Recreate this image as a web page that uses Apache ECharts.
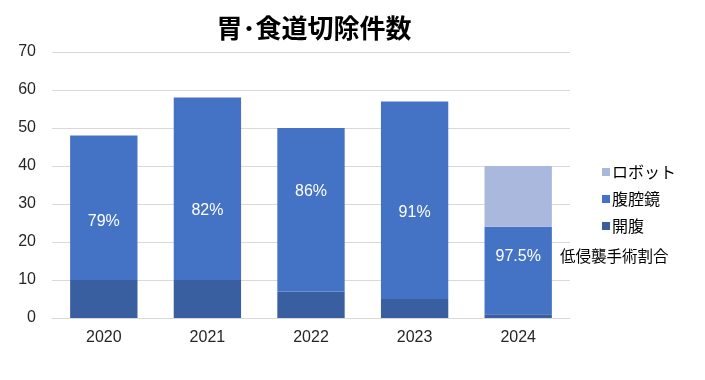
<!DOCTYPE html>
<html><head><meta charset="utf-8">
<script src="https://cdn.jsdelivr.net/npm/echarts@6/dist/echarts.min.js"></script>
<style>html,body{margin:0;padding:0;background:#fff}#c{width:705px;height:380px}</style>
</head><body><div id="c"></div>
<script>
const categories = ['2020', '2021', '2022', '2023', '2024'];
const openSurgery = [10, 10, 7, 5, 1];
const laparoscopic = [38, 48, 43, 52, 23];
const robotic = [0, 0, 0, 0, 16];
const rateLabels = ['79%', '82%', '86%', '91%', '97.5%'];
const labelOffsetY = [14, 22, -18, 12, -14];

const font = '"Noto Sans CJK JP", "Liberation Sans", Arial, sans-serif';
const chart = echarts.init(document.getElementById('c'), null, {renderer: 'canvas'});
chart.setOption({
  animation: false,
  title: {text: '胃･食道切除件数', left: 309, textAlign: 'center', top: 10,
    textStyle: {fontFamily: font, fontSize: 26, fontWeight: 'bold', color: '#000'}},
  grid: {left: 52, right: 135, top: 52, bottom: 62},
  legend: {orient: 'vertical', left: 597, top: 159, itemWidth: 8, itemHeight: 8, itemGap: 11,
    icon: 'rect', data: ['ロボット', '腹腔鏡', '開腹'],
    textStyle: {fontFamily: font, fontSize: 16, color: '#000', padding: [0, 0, 0, -3]}},
  xAxis: {type: 'category', data: categories,
    axisLine: {lineStyle: {color: '#d9d9d9'}}, axisTick: {show: false},
    axisLabel: {fontFamily: 'Liberation Sans, Arial', fontSize: 16, color: '#262626', margin: 12}},
  yAxis: {type: 'value', min: 0, max: 70, interval: 10,
    axisLine: {show: false}, axisTick: {show: false},
    splitLine: {lineStyle: {color: '#d9d9d9'}},
    axisLabel: {fontFamily: 'Liberation Sans, Arial', fontSize: 16, color: '#262626', margin: 16}},
  series: [
    {name: '開腹', type: 'bar', stack: 't', data: openSurgery, barWidth: '65%',
      itemStyle: {color: '#3a5fa0'}},
    {name: '腹腔鏡', type: 'bar', stack: 't',
      data: laparoscopic.map((v, i) => ({value: v, label: {offset: [0, labelOffsetY[i]]}})),
      itemStyle: {color: '#4472c4'},
      label: {show: true, position: 'inside', color: '#fff', fontSize: 16,
        fontFamily: 'Liberation Sans, Arial', formatter: p => rateLabels[p.dataIndex]}},
    {name: 'ロボット', type: 'bar', stack: 't', data: robotic, itemStyle: {color: '#a9b8dc'}}
  ],
  graphic: [{type: 'text', left: 560, top: 248,
    style: {text: '低侵襲手術割合', fontFamily: font, fontSize: 15.5, fill: '#000'}}]
});
</script></body></html>
